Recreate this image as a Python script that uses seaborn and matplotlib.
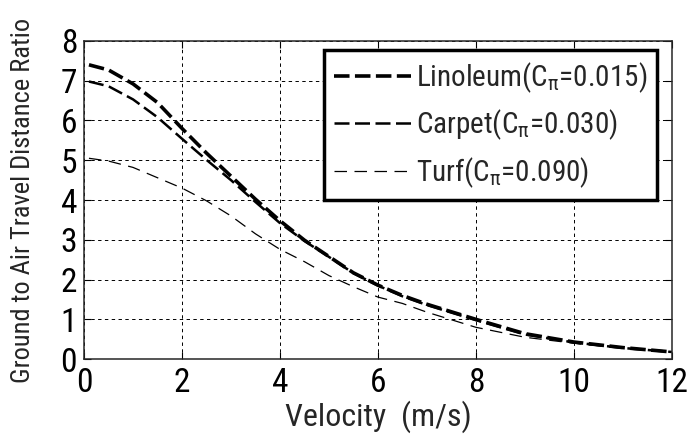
import matplotlib
matplotlib.use("Agg")
import matplotlib.pyplot as plt
import seaborn as sns

# velocity (m/s) vs ground-to-air travel distance ratio
velocity = [0.1, 0.5, 1.0, 1.5, 2.0, 2.5, 3.0, 3.5, 4.0, 4.5, 5.0, 5.5,
            6.0, 6.5, 7.0, 8.0, 9.0, 10.0, 11.0, 12.0]
linoleum = [7.40, 7.27, 6.92, 6.45, 5.80, 5.18, 4.60, 4.02, 3.48, 2.99, 2.58, 2.17,
            1.86, 1.60, 1.38, 1.00, 0.64, 0.43, 0.29, 0.18]
carpet = [6.98, 6.86, 6.53, 6.08, 5.54, 5.01, 4.50, 3.95, 3.42, 2.97, 2.57, 2.16,
          1.85, 1.58, 1.36, 0.98, 0.62, 0.42, 0.28, 0.18]
turf = [5.05, 4.98, 4.82, 4.56, 4.30, 3.98, 3.60, 3.15, 2.76, 2.45, 2.10, 1.82,
        1.56, 1.40, 1.18, 0.80, 0.55, 0.40, 0.28, 0.18]
labels = ["Linoleum(C$_\\pi$=0.015)", "Carpet(C$_\\pi$=0.030)", "Turf(C$_\\pi$=0.090)"]

sns.set_style("ticks")
plt.rcParams["font.family"] = ["Roboto Condensed", "DejaVu Sans"]
plt.rcParams["mathtext.fontset"] = "custom"
plt.rcParams["mathtext.rm"] = "Roboto Condensed"
plt.rcParams["mathtext.it"] = "Roboto Condensed"
plt.rcParams["mathtext.sf"] = "Roboto Condensed"

fig = plt.figure(figsize=(6.89, 4.45), dpi=100)
ax = fig.add_axes([0.122, 0.193, 0.853, 0.715])

# thick / medium / thin dashed lines
styles = [(2.6, (0, (4.3, 1.5))), (1.8, (0, (6.0, 2.2))), (0.9, (0, (10, 6)))]
for ys, lab, (lw, ls) in zip([linoleum, carpet, turf], labels, styles):
    sns.lineplot(x=velocity, y=ys, ax=ax, color="black", linewidth=lw,
                 linestyle=ls, label=lab, sort=False)

ax.set_xlim(0, 12)
ax.set_ylim(0, 8)
ax.set_xticks(range(0, 13, 2))
ax.set_yticks(range(0, 9))
ax.grid(True, color="black", linestyle=(0, (3.5, 3.5)), linewidth=0.7)
for s in ax.spines.values():
    s.set_visible(True)
    s.set_linewidth(1.1)
ax.tick_params(direction="in", top=True, right=True, length=5, width=0.8,
               labelsize=24, colors="black")
ax.tick_params(axis="x", pad=6)
ax.tick_params(axis="y", pad=5)
ax.set_xlabel("Velocity  (m/s)", fontsize=23, labelpad=1)
ax.set_ylabel("Ground to Air Travel Distance Ratio", fontsize=19)
ax.yaxis.set_label_coords(-0.083, 0.5)

leg = ax.legend(loc="upper right", bbox_to_anchor=(0.975, 0.972), fontsize=21,
                frameon=True, fancybox=False, framealpha=1, edgecolor="black",
                handlelength=2.65, handletextpad=0.15, borderpad=0.35,
                labelspacing=0.45, borderaxespad=0)
leg.get_frame().set_linewidth(2.5)

fig.savefig("out.png", dpi=100)
